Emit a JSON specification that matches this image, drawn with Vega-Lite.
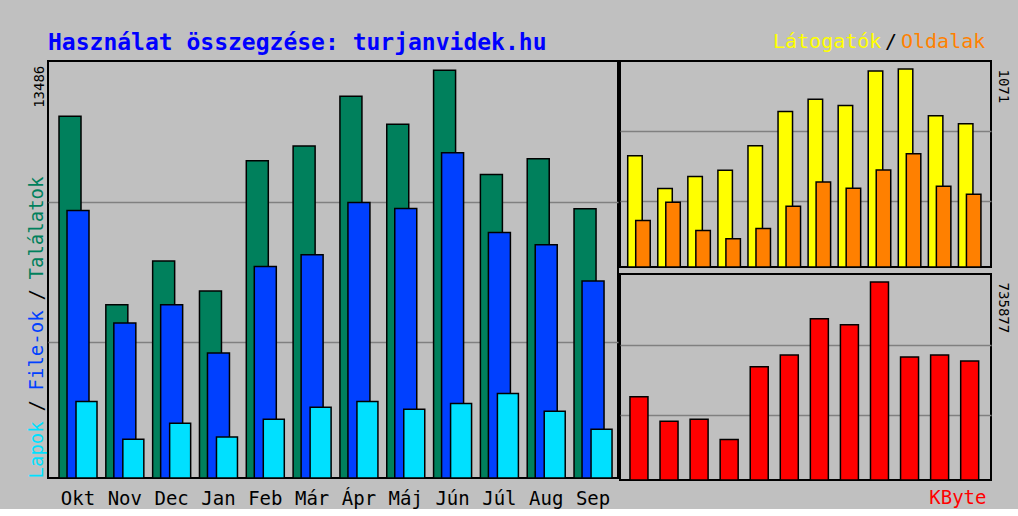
{
  "$schema": "https://vega.github.io/schema/vega-lite/v6.json",
  "background": "#c0c0c0",
  "padding": {"left": 17, "top": 31, "right": 12, "bottom": 0},
  "bounds": "flush",
  "datasets": {
    "main": [
      {"month": "Okt", "measure": "Találatok", "value": 11962}, {"month": "Nov", "measure": "Találatok", "value": 5732}, {"month": "Dec", "measure": "Találatok", "value": 7180}, {"month": "Jan", "measure": "Találatok", "value": 6186}, {"month": "Feb", "measure": "Találatok", "value": 10494}, {"month": "Már", "measure": "Találatok", "value": 10978}, {"month": "Ápr", "measure": "Találatok", "value": 12624}, {"month": "Máj", "measure": "Találatok", "value": 11697}, {"month": "Jún", "measure": "Találatok", "value": 13486}, {"month": "Júl", "measure": "Találatok", "value": 10040}, {"month": "Aug", "measure": "Találatok", "value": 10560}, {"month": "Sep", "measure": "Találatok", "value": 8903},
      {"month": "Okt", "measure": "File-ok", "value": 8847}, {"month": "Nov", "measure": "File-ok", "value": 5126}, {"month": "Dec", "measure": "File-ok", "value": 5732}, {"month": "Jan", "measure": "File-ok", "value": 4132}, {"month": "Feb", "measure": "File-ok", "value": 6991}, {"month": "Már", "measure": "File-ok", "value": 7379}, {"month": "Ápr", "measure": "File-ok", "value": 9112}, {"month": "Máj", "measure": "File-ok", "value": 8913}, {"month": "Jún", "measure": "File-ok", "value": 10759}, {"month": "Júl", "measure": "File-ok", "value": 8118}, {"month": "Aug", "measure": "File-ok", "value": 7711}, {"month": "Sep", "measure": "File-ok", "value": 6518},
      {"month": "Okt", "measure": "Lapok", "value": 2528}, {"month": "Nov", "measure": "Lapok", "value": 1282}, {"month": "Dec", "measure": "Lapok", "value": 1812}, {"month": "Jan", "measure": "Lapok", "value": 1359}, {"month": "Feb", "measure": "Lapok", "value": 1945}, {"month": "Már", "measure": "Lapok", "value": 2343}, {"month": "Ápr", "measure": "Lapok", "value": 2528}, {"month": "Máj", "measure": "Lapok", "value": 2276}, {"month": "Jún", "measure": "Lapok", "value": 2462}, {"month": "Júl", "measure": "Lapok", "value": 2793}, {"month": "Aug", "measure": "Lapok", "value": 2210}, {"month": "Sep", "measure": "Lapok", "value": 1614}
    ],
    "side": [
      {"month": "Okt", "measure": "Látogatók", "value": 601}, {"month": "Nov", "measure": "Látogatók", "value": 424}, {"month": "Dec", "measure": "Látogatók", "value": 490}, {"month": "Jan", "measure": "Látogatók", "value": 523}, {"month": "Feb", "measure": "Látogatók", "value": 656}, {"month": "Már", "measure": "Látogatók", "value": 841}, {"month": "Ápr", "measure": "Látogatók", "value": 907}, {"month": "Máj", "measure": "Látogatók", "value": 874}, {"month": "Jún", "measure": "Látogatók", "value": 1060}, {"month": "Júl", "measure": "Látogatók", "value": 1071}, {"month": "Aug", "measure": "Látogatók", "value": 818}, {"month": "Sep", "measure": "Látogatók", "value": 774},
      {"month": "Okt", "measure": "Oldalak", "value": 251}, {"month": "Nov", "measure": "Oldalak", "value": 350}, {"month": "Dec", "measure": "Oldalak", "value": 197}, {"month": "Jan", "measure": "Oldalak", "value": 153}, {"month": "Feb", "measure": "Oldalak", "value": 208}, {"month": "Már", "measure": "Oldalak", "value": 328}, {"month": "Ápr", "measure": "Oldalak", "value": 459}, {"month": "Máj", "measure": "Oldalak", "value": 426}, {"month": "Jún", "measure": "Oldalak", "value": 525}, {"month": "Júl", "measure": "Oldalak", "value": 612}, {"month": "Aug", "measure": "Oldalak", "value": 437}, {"month": "Sep", "measure": "Oldalak", "value": 393}
    ],
    "kb": [
      {"month": "Okt", "value": 309318}, {"month": "Nov", "value": 218269}, {"month": "Dec", "value": 225752}, {"month": "Jan", "value": 150917}, {"month": "Feb", "value": 421571}, {"month": "Már", "value": 465225}, {"month": "Ápr", "value": 599927}, {"month": "Máj", "value": 577477}, {"month": "Jún", "value": 735877}, {"month": "Júl", "value": 457741}, {"month": "Aug", "value": 465225}, {"month": "Sep", "value": 442774}
    ]
  },
  "spacing": 2,
  "resolve": {"scale": {"color": "independent", "y": "independent", "x": "independent"}, "legend": {"color": "independent"}},
  "hconcat": [
    {
      "title": {"text": "Használat összegzése: turjanvidek.hu", "anchor": "start", "frame": "group", "font": "DejaVu Sans Mono", "fontSize": 23, "fontWeight": "bold", "color": "#0000ff", "baseline": "alphabetic", "offset": -12},
      "width": 570,
      "height": 417,
      "data": {"name": "main"},
      "encoding": {
        "x": {"field": "month", "type": "nominal",
          "scale": {"domain": ["Okt", "Nov", "Dec", "Jan", "Feb", "Már", "Ápr", "Máj", "Jún", "Júl", "Aug", "Sep"], "paddingInner": 0, "paddingOuter": 0.087, "align": 0.81},
          "axis": {"title": null, "labelAngle": 0, "ticks": false, "domain": false, "labelFont": "DejaVu Sans Mono", "labelFontSize": 19, "labelColor": "#000000", "labelPadding": 11, "grid": false}},
        "y": {"field": "value", "type": "quantitative",
          "scale": {"domain": [0, 13790], "nice": false, "zero": true},
          "axis": {"title": null, "values": [4497, 9127, 13486], "format": "d", "labelExpr": "datum.value == 13486 ? '13486' : ''", "ticks": false, "domain": false, "grid": true,
            "gridOpacity": {"condition": {"test": "datum.value == 13486", "value": 0}, "value": 1},
            "labelAngle": 270, "labelAlign": "right", "labelBaseline": "bottom", "labelPadding": 2, "labelOffset": -5, "labelFont": "DejaVu Sans Mono", "labelFontSize": 14, "labelColor": "#000000", "labelOverlap": false, "labelFlush": false, "labelBound": false}},
        "color": {"field": "measure", "type": "nominal",
          "scale": {"domain": ["Találatok", "/2", "File-ok", "/1", "Lapok"], "range": ["#00805c", "#000000", "#0040ff", "#000000", "#00e0ff"]},
          "legend": {"orient": "none", "legendX": -30, "legendY": 209, "direction": "vertical", "title": null, "padding": 0, "symbolType": "circle", "symbolSize": 1, "symbolOpacity": 0, "symbolStrokeWidth": 0, "labelOffset": 0, "rowPadding": 9,
            "labelFont": "DejaVu Sans Mono", "labelFontSize": 19, "labelLimit": 400,
            "labelExpr": "slice(datum.label, 0, 1) == '/' ? '/' : datum.label",
            "encoding": {"labels": {
              "angle": {"value": 270},
              "fill": {"condition": [{"test": "datum.value == 'Lapok'", "value": "#00e0ff"}, {"test": "datum.value == 'File-ok'", "value": "#0040ff"}, {"test": "datum.value == 'Találatok'", "value": "#00805c"}], "value": "#000000"}}}}}
      },
      "layer": [
        {"transform": [{"filter": "datum.measure == 'Találatok'"}], "mark": {"type": "bar", "width": 22, "xOffset": -8, "stroke": "#000000", "strokeWidth": 1.5}},
        {"transform": [{"filter": "datum.measure == 'File-ok'"}], "mark": {"type": "bar", "width": 22, "xOffset": 0, "stroke": "#000000", "strokeWidth": 1.5}},
        {"transform": [{"filter": "datum.measure == 'Lapok'"}], "mark": {"type": "bar", "width": 21, "xOffset": 8.5, "stroke": "#000000", "strokeWidth": 1.5}}
      ]
    },
    {
      "spacing": 4,
      "resolve": {"scale": {"color": "independent", "y": "independent", "x": "independent"}, "legend": {"color": "independent"}},
      "vconcat": [
        {
          "width": 371,
          "height": 206,
          "data": {"name": "side"},
          "encoding": {
            "x": {"field": "month", "type": "nominal",
              "scale": {"domain": ["Okt", "Nov", "Dec", "Jan", "Feb", "Már", "Ápr", "Máj", "Jún", "Júl", "Aug", "Sep"], "paddingInner": 0, "paddingOuter": 0.17, "align": 0.385},
              "axis": null},
            "y": {"field": "value", "type": "quantitative",
              "scale": {"domain": [0, 1114], "nice": false},
              "axis": {"orient": "right", "title": null, "values": [357, 734, 1071], "format": "d", "labelExpr": "datum.value == 1071 ? '1071' : ''", "ticks": false, "domain": false, "grid": true,
                "gridOpacity": {"condition": {"test": "datum.value == 1071", "value": 0}, "value": 1},
                "labelAngle": 90, "labelAlign": "left", "labelBaseline": "bottom", "labelPadding": 4, "labelFont": "DejaVu Sans Mono", "labelFontSize": 14, "labelColor": "#000000", "labelOverlap": false, "labelFlush": false, "labelBound": false}},
            "color": {"field": "measure", "type": "nominal",
              "scale": {"domain": ["Látogatók", "/", "Oldalak"], "range": ["#ffff00", "#000000", "#ff8000"]},
              "legend": {"orient": "none", "legendX": 133, "legendY": -29, "direction": "horizontal", "title": null, "padding": 0, "symbolType": "circle", "symbolSize": 1, "symbolOpacity": 0, "symbolStrokeWidth": 0, "labelOffset": 0, "columnPadding": 3,
                "labelFont": "DejaVu Sans Mono", "labelFontSize": 20, "labelLimit": 400,
                "encoding": {"labels": {
                  "dx": {"condition": [{"test": "datum.value == '/'", "value": -21}, {"test": "datum.value == 'Oldalak'", "value": -33}], "value": 0},
                  "fill": {"condition": [{"test": "datum.value == 'Látogatók'", "value": "#ffff00"}, {"test": "datum.value == 'Oldalak'", "value": "#ff8000"}], "value": "#000000"}}}}}
          },
          "layer": [
            {"transform": [{"filter": "datum.measure == 'Látogatók'"}], "mark": {"type": "bar", "width": 14.5, "xOffset": -4, "stroke": "#000000", "strokeWidth": 1.5}},
            {"transform": [{"filter": "datum.measure == 'Oldalak'"}], "mark": {"type": "bar", "width": 14.5, "xOffset": 4, "stroke": "#000000", "strokeWidth": 1.5}}
          ]
        },
        {
          "width": 371,
          "height": 206,
          "data": {"name": "kb"},
          "mark": {"type": "bar", "width": 18, "color": "#ff0000", "stroke": "#000000", "strokeWidth": 1.5},
          "encoding": {
            "x": {"field": "month", "type": "nominal",
              "scale": {"domain": ["Okt", "Nov", "Dec", "Jan", "Feb", "Már", "Ápr", "Máj", "Jún", "Júl", "Aug", "Sep"], "paddingInner": 0, "paddingOuter": 0.17, "align": 0.385},
              "axis": {"title": "KByte", "titleColor": "#ff0000", "titleFont": "DejaVu Sans Mono", "titleFontSize": 19, "titleFontWeight": "normal", "titleAnchor": "end", "titleX": 366, "titlePadding": 8, "labels": false, "ticks": false, "domain": false, "grid": false}},
            "y": {"field": "value", "type": "quantitative",
              "scale": {"domain": [0, 766000], "nice": false},
              "axis": {"orient": "right", "title": null, "values": [240970, 502900, 735877], "format": "d", "labelExpr": "datum.value == 735877 ? '735877' : ''", "ticks": false, "domain": false, "grid": true,
                "gridOpacity": {"condition": {"test": "datum.value == 735877", "value": 0}, "value": 1},
                "labelAngle": 90, "labelAlign": "left", "labelBaseline": "bottom", "labelPadding": 4, "labelFont": "DejaVu Sans Mono", "labelFontSize": 14, "labelColor": "#000000", "labelOverlap": false, "labelFlush": false, "labelBound": false}}
          }
        }
      ]
    }
  ],
  "config": {
    "view": {"stroke": "#000000", "strokeWidth": 2, "fill": "#c0c0c0"},
    "axis": {"gridColor": "#808080", "gridWidth": 1.5}
  }
}
